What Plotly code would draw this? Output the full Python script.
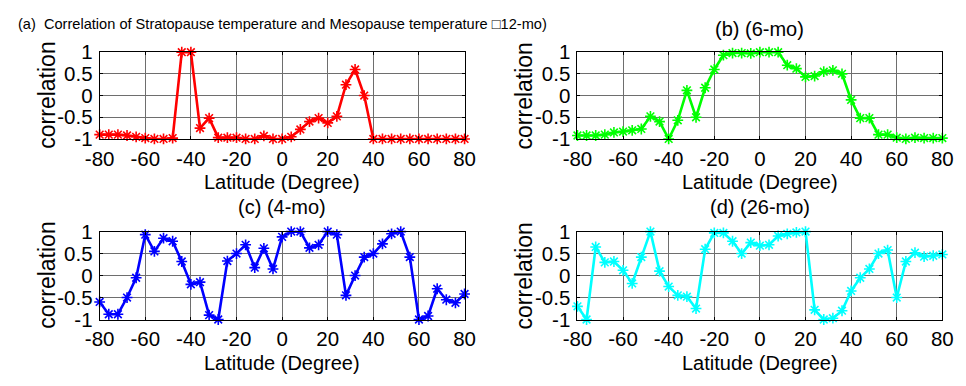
import plotly.graph_objects as go

latitude = [-80, -76, -72, -68, -64, -60, -56, -52, -48, -44, -40, -36, -32, -28, -24, -20, -16, -12, -8, -4,
            0, 4, 8, 12, 16, 20, 24, 28, 32, 36, 40, 44, 48, 52, 56, 60, 64, 68, 72, 76, 80]

corr_12mo = [-0.9, -0.9, -0.9, -0.92, -0.95, -0.98, -1.0, -1.0, -0.98, 1.0, 1.0, -0.75, -0.52, -0.97, -0.97,
             -0.97, -1.0, -1.0, -0.93, -1.0, -1.0, -0.95, -0.78, -0.6, -0.52, -0.63, -0.48, 0.25, 0.6, 0.0,
             -1.0, -1.0, -1.0, -1.0, -1.0, -1.0, -1.0, -1.0, -1.0, -1.0, -1.0]

corr_6mo = [-0.92, -0.92, -0.92, -0.9, -0.85, -0.83, -0.8, -0.77, -0.48, -0.6, -1.0, -0.57, 0.12, -0.5, 0.18,
            0.6, 0.93, 0.98, 0.98, 0.97, 1.0, 1.0, 1.0, 0.7, 0.62, 0.43, 0.45, 0.55, 0.58, 0.5, -0.1, -0.52,
            -0.52, -0.9, -0.9, -0.97, -1.0, -0.97, -0.98, -0.98, -0.98]

corr_4mo = [-0.6, -0.88, -0.88, -0.5, -0.05, 0.93, 0.55, 0.85, 0.78, 0.32, -0.2, -0.15, -0.9, -1.0, 0.33,
            0.5, 0.7, 0.18, 0.62, 0.15, 0.88, 1.0, 1.0, 0.63, 0.7, 1.0, 0.93, -0.45, 0.0, 0.42, 0.5, 0.72,
            0.95, 1.0, 0.42, -1.0, -0.92, -0.3, -0.55, -0.62, -0.42]

corr_26mo = [-0.7, -1.0, 0.65, 0.3, 0.32, 0.12, -0.18, 0.42, 1.0, 0.1, -0.25, -0.45, -0.48, -0.75, 0.6,
             0.97, 0.97, 0.78, 0.5, 0.75, 0.68, 0.7, 0.9, 0.95, 0.98, 1.0, -0.78, -1.0, -0.97, -0.8, -0.35,
             -0.05, 0.15, 0.5, 0.58, -0.5, 0.32, 0.52, 0.43, 0.45, 0.48]

x_ticks = [-80, -60, -40, -20, 0, 20, 40, 60, 80]
x_ticklabels = ["-80", "-60", "-40", "-20", "0", "20", "40", "60", "80"]
y_ticks = [-1, -0.5, 0, 0.5, 1]
y_ticklabels = ["-1", "-0.5", "0", "0.5", "1"]

panel_titles = [
    "(a)  Correlation of Stratopause temperature and Mesopause temperature \u25a112-mo)",
    "(b) (6-mo)",
    "(c) (4-mo)",
    "(d) (26-mo)",
]
series = [corr_12mo, corr_6mo, corr_4mo, corr_26mo]
colors = ["#ff0000", "#00ff00", "#0000ff", "#00ffff"]

W, H = 966, 386
FONT = "Liberation Sans, Arial, sans-serif"

# pixel geometry of the four axes boxes: (left, right, top, bottom)
boxes = [(87, 462, 42.7, 135), (578, 953, 42.7, 135), (87, 462, 233.5, 327), (578, 953, 233.5, 327)]

fig = go.Figure()
annotations = []
for i, (vals, col, box) in enumerate(zip(series, colors, boxes)):
    n = "" if i == 0 else str(i + 1)
    l, r, t, b = box
    fig.add_trace(go.Scatter(
        x=latitude, y=vals, mode="lines+markers",
        line=dict(color=col, width=2.6),
        marker=dict(symbol="asterisk-open", size=9, color=col, line=dict(color=col, width=1.6)),
        xaxis="x" + n, yaxis="y" + n, cliponaxis=False, showlegend=False,
    ))
    common = dict(showline=True, linecolor="black", linewidth=1, mirror="ticks",
                  ticks="inside", ticklen=3, tickcolor="black",
                  showgrid=True, gridcolor="#6e6e6e", gridwidth=1, zeroline=False,
                  tickfont=dict(family=FONT, size=20.5, color="black"))
    fig.update_layout(**{
        "xaxis" + n: dict(domain=[l / W, r / W], range=[-80, 80], tickvals=x_ticks,
                          ticktext=x_ticklabels, anchor="y" + n, ticklabelstandoff=1, **common),
        "yaxis" + n: dict(domain=[1 - b / H, 1 - t / H], range=[-1, 1], tickvals=y_ticks,
                          ticktext=y_ticklabels, anchor="x" + n, ticklabelstandoff=2, **common),
    })
    cx = (l + r) / 2
    # subplot title
    if i == 0:
        annotations.append(dict(text=panel_titles[i], x=cx / W, y=1 - 13 / H, xref="paper", yref="paper",
                                showarrow=False, xanchor="center", yanchor="middle",
                                font=dict(family=FONT, size=14.6, color="black")))
    else:
        ty = 18 if i == 1 else 207
        annotations.append(dict(text=panel_titles[i], x=cx / W, y=1 - ty / H, xref="paper", yref="paper",
                                showarrow=False, xanchor="center", yanchor="middle",
                                font=dict(family=FONT, size=20, color="black")))
    # x label
    annotations.append(dict(text="Latitude (Degree)", x=cx / W, y=1 - (b + 46) / H, xref="paper", yref="paper",
                            showarrow=False, xanchor="center", yanchor="middle",
                            font=dict(family=FONT, size=20, color="black")))
    # y label
    annotations.append(dict(text="correlation", x=(l - 55) / W, y=1 - ((t + b) / 2) / H, xref="paper",
                            yref="paper", showarrow=False, xanchor="center", yanchor="middle", textangle=-90,
                            font=dict(family=FONT, size=23, color="black")))

fig.update_layout(width=W, height=H, margin=dict(l=0, r=0, t=0, b=0),
                  paper_bgcolor="white", plot_bgcolor="white", annotations=annotations)
fig.write_html("out.html")
